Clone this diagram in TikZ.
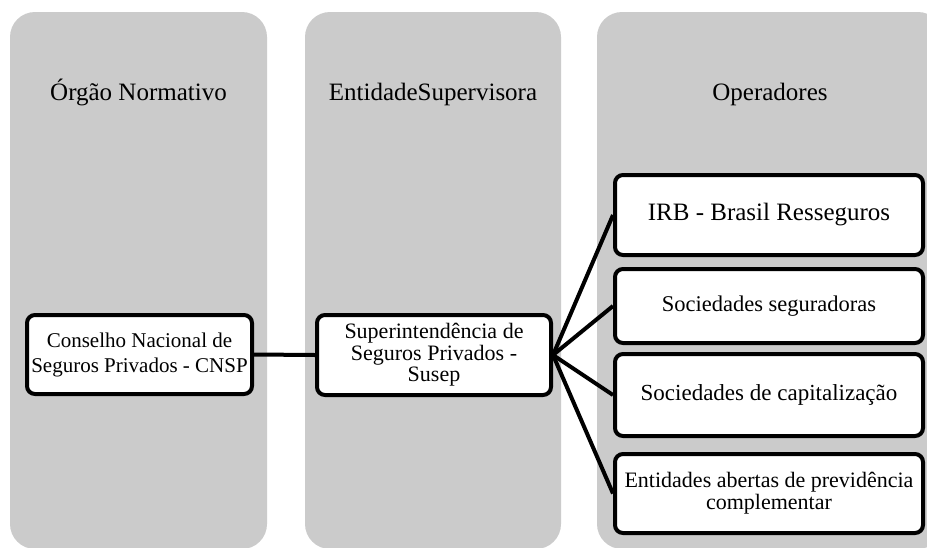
\documentclass[tikz,border=0pt]{standalone}
\usepackage{fontspec}
\setmainfont{Liberation Serif}
\definecolor{panelgray}{RGB}{203,203,203}
\begin{document}
\begin{tikzpicture}[x=1pt,y=-1pt,
  panel/.style={fill=panelgray, rounded corners=25pt},
  title/.style={font=\fontsize{25}{28}\selectfont, inner sep=0pt, anchor=base},
  box/.style={draw=black, line width=4pt, fill=white, rounded corners=8pt, align=center, inner sep=0pt},
  conn/.style={line width=4pt}]
\useasboundingbox (0,0) rectangle (927,547);
\clip (0,0) rectangle (927,547);
% panels
\fill[panel] (10,12) rectangle (267,549);
\fill[panel] (305,12) rectangle (561,549);
\fill[panel] (597,12) rectangle (943,549);
% titles
\node[title] (t1) at (138.5,100) {Órgão Normativo};
\node[title] (t2) at (433,100) {EntidadeSupervisora};
\node[title] (t3) at (770,100) {Operadores};
% boxes
\node[box, minimum width=225pt, minimum height=79pt, font=\fontsize{21}{25}\selectfont] (cnsp) at (139.5,354.5) {Conselho Nacional de\\Seguros Privados - CNSP};
\node[box, minimum width=234pt, minimum height=80pt, font=\fontsize{22}{21.5}\selectfont] (susep) at (434,355) {Superintendência de\\Seguros Privados -\\Susep};
\node[box, minimum width=308pt, minimum height=80pt, font=\fontsize{25}{28}\selectfont] (irb) at (769,215) {IRB - Brasil Resseguros};
\node[box, minimum width=308pt, minimum height=74pt, font=\fontsize{22.5}{24}\selectfont] (seg) at (769,306) {Sociedades seguradoras};
\node[box, minimum width=308pt, minimum height=82pt, font=\fontsize{23}{24}\selectfont] (cap) at (769,395) {Sociedades de capitalização};
\node[box, minimum width=308pt, minimum height=79pt, font=\fontsize{22}{22}\selectfont] (ent) at (769,493.5) {Entidades abertas de previdência\\complementar};
% connectors
\draw[conn] (cnsp.east) -- (susep.west);
\draw[conn] (susep.east) -- (irb.west);
\draw[conn] (susep.east) -- (seg.west);
\draw[conn] (susep.east) -- (cap.west);
\draw[conn] (susep.east) -- (ent.west);
\end{tikzpicture}
\end{document}
